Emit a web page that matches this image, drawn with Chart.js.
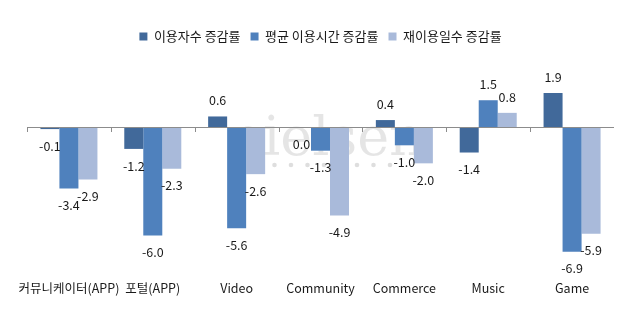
<!DOCTYPE html>
<html>
<head>
<meta charset="utf-8">
<script src="https://cdn.jsdelivr.net/npm/chart.js@4"></script>
<style>
  html, body { margin: 0; padding: 0; background: #fff; }
  #wrap { width: 630px; height: 322px; }
</style>
</head>
<body>
<div id="wrap"><canvas id="chart"></canvas></div>
<script>
const categories = ['커뮤니케이터(APP)', '포털(APP)', 'Video', 'Community', 'Commerce', 'Music', 'Game'];
const seriesNames = ['이용자수 증감률', '평균 이용시간 증감률', '재이용일수 증감률'];
const users = [-0.1, -1.2, 0.6, 0.0, 0.4, -1.4, 1.9];
const avgTime = [-3.4, -6.0, -5.6, -1.3, -1.0, 1.5, -6.9];
const revisit = [-2.9, -2.3, -2.6, -4.9, -2.0, 0.8, -5.9];
const colors = ['#41699A', '#4F81BD', '#A9BADA'];

const FONT = '"Noto Sans CJK KR", "Noto Sans", sans-serif';

// zero line, category tick marks and the faint logo behind the bars
const backdrop = {
  id: 'backdrop',
  beforeDatasetsDraw(chart) {
    const { ctx } = chart;
    ctx.save();
    ctx.font = '54px "DejaVu Serif", "Liberation Serif", serif';
    ctx.textAlign = 'center';
    ctx.textBaseline = 'alphabetic';
    ctx.fillStyle = 'rgba(0, 0, 0, 0.1)';
    ctx.fillText('nielsen', 326, 155);
    ctx.fillStyle = 'rgba(0, 0, 0, 0.13)';
    for (let i = 0; i < 9; i++) {
      ctx.beginPath();
      ctx.arc(258 + i * 16.5, 165, 2.3, 0, Math.PI * 2);
      ctx.fill();
    }
    ctx.restore();
  },
  afterDatasetsDraw(chart) {
    const { ctx, chartArea, scales } = chart;
    const y0 = Math.round(scales.y.getPixelForValue(0));
    const step = (chartArea.right - chartArea.left) / categories.length;
    ctx.save();
    ctx.strokeStyle = '#8C8C8C';
    ctx.lineWidth = 1;
    ctx.beginPath();
    ctx.moveTo(chartArea.left, y0 + 0.5);
    ctx.lineTo(chartArea.right, y0 + 0.5);
    for (let i = 0; i < categories.length; i++) {
      const x = Math.round(chartArea.left + i * step) + 0.5;
      ctx.moveTo(x, y0);
      ctx.lineTo(x, y0 + 5);
    }
    ctx.stroke();
    ctx.restore();
  },
  afterDraw(chart) {
    const { ctx } = chart;
    ctx.save();
    ctx.font = '12.5px ' + FONT;
    ctx.fillStyle = '#1a1a1a';
    ctx.textAlign = 'center';
    ctx.textBaseline = 'middle';
    chart.data.datasets.forEach((ds, di) => {
      chart.getDatasetMeta(di).data.forEach((bar, i) => {
        const v = ds.data[i];
        const y = v <= 0 ? bar.y + 17 : bar.y - 16;
        ctx.fillText(v.toFixed(1), bar.x, y);
      });
    });
    ctx.restore();
  }
};

new Chart(document.getElementById('chart'), {
  type: 'bar',
  data: {
    labels: categories,
    datasets: [
      { label: seriesNames[0], data: users, backgroundColor: colors[0] },
      { label: seriesNames[1], data: avgTime, backgroundColor: colors[1] },
      { label: seriesNames[2], data: revisit, backgroundColor: colors[2] }
    ]
  },
  options: {
    responsive: true,
    maintainAspectRatio: false,
    animation: false,
    layout: { padding: { top: 20, bottom: 20, left: 27, right: 16 } },
    datasets: { bar: { categoryPercentage: 0.68, barPercentage: 1.0 } },
    plugins: {
      legend: {
        position: 'top',
        labels: {
          boxWidth: 8,
          boxHeight: 8,
          padding: 10,
          color: '#1a1a1a',
          font: { family: FONT, size: 13 }
        }
      },
      tooltip: { enabled: false }
    },
    scales: {
      x: {
        grid: { display: false },
        border: { display: false },
        ticks: {
          color: '#1a1a1a',
          padding: 6,
          maxRotation: 0,
          autoSkip: false,
          font: { family: FONT, size: 12.5 }
        }
      },
      y: {
        display: false,
        min: -7.75,
        max: 4.12
      }
    }
  },
  plugins: [backdrop]
});
</script>
</body>
</html>
